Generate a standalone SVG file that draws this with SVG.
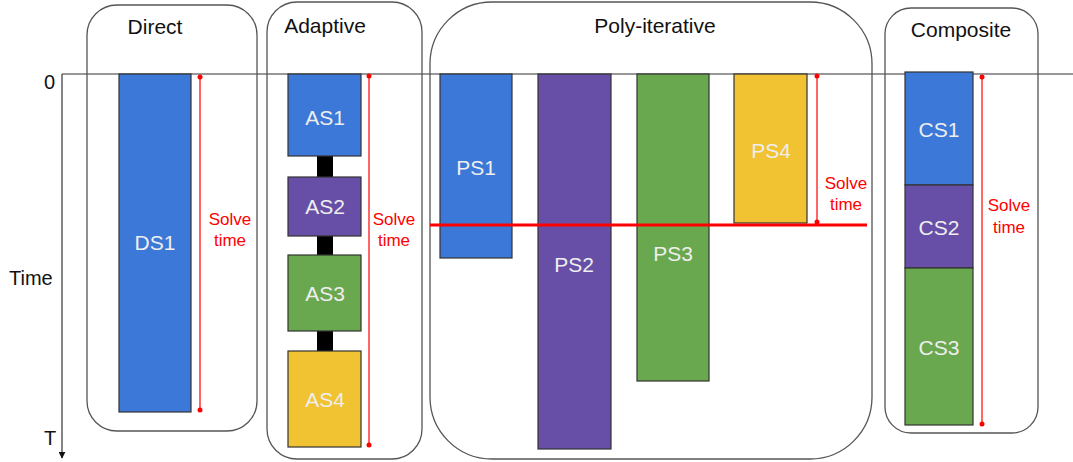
<svg xmlns="http://www.w3.org/2000/svg" width="1073" height="462" viewBox="0 0 1073 462">
<defs>
<style>
.frame{fill:none;stroke:#555;stroke-width:1.3}
.title{font-family:"Liberation Sans",Arial,sans-serif;font-size:21px;fill:#111;text-anchor:middle}
.bar{stroke:#333;stroke-width:1.2}
.lbl{font-family:"Liberation Sans",Arial,sans-serif;font-size:21px;fill:#eee;text-anchor:middle}
.st{font-family:"Liberation Sans",Arial,sans-serif;font-size:17px;fill:#f00;text-anchor:middle}
.axis{font-family:"Liberation Sans",Arial,sans-serif;font-size:20px;fill:#111}
.rl{stroke:#f00;stroke-width:1.2;fill:none}
.blue{fill:#3c78d8}.purple{fill:#674ea7}.green{fill:#6aa84f}.yellow{fill:#f1c232}
</style>
<marker id="dot" viewBox="0 0 6 6" refX="3" refY="3" markerWidth="6" markerHeight="6" markerUnits="userSpaceOnUse"><circle cx="3" cy="3" r="2.5" fill="#f00"/></marker>
<marker id="arr" viewBox="0 0 10 10" refX="9" refY="5" markerWidth="7" markerHeight="7" markerUnits="userSpaceOnUse" orient="auto"><path d="M0,0 L10,5 L0,10 z" fill="#111"/></marker>
</defs>
<g id="axes">
<line x1="62" y1="74" x2="1073" y2="74" stroke="#333" stroke-width="1.2"/>
<line x1="62" y1="74" x2="62" y2="458" stroke="#333" stroke-width="1.2" marker-end="url(#arr)"/>
<text class="axis" x="44" y="89">0</text>
<text class="axis" x="9" y="285">Time</text>
<text class="axis" x="44" y="445">T</text>
</g>
<g id="direct">
<rect class="frame" x="87" y="5" width="170" height="426" rx="30"/>
<text class="title" x="155" y="34">Direct</text>
<g id="DS1"><rect class="bar blue" x="119" y="74" width="72" height="338"/><text class="lbl" x="155" y="250">DS1</text></g>
</g>
<g id="adaptive">
<rect class="frame" x="267" y="2" width="155" height="457" rx="30"/>
<text class="title" x="325" y="33">Adaptive</text>
<rect x="317" y="156" width="16" height="21" fill="#000"/>
<rect x="317" y="236" width="16" height="19" fill="#000"/>
<rect x="317" y="331" width="16" height="20" fill="#000"/>
<g id="AS1"><rect class="bar blue" x="288" y="74" width="73" height="82"/><text class="lbl" x="325" y="125">AS1</text></g>
<g id="AS2"><rect class="bar purple" x="288" y="177" width="73" height="59"/><text class="lbl" x="325" y="214">AS2</text></g>
<g id="AS3"><rect class="bar green" x="288" y="255" width="73" height="76"/><text class="lbl" x="325" y="301">AS3</text></g>
<g id="AS4"><rect class="bar yellow" x="288" y="351" width="73" height="96"/><text class="lbl" x="325" y="407">AS4</text></g>
</g>
<g id="poly">
<rect class="frame" x="430" y="2" width="442" height="457" rx="62"/>
<text class="title" x="655" y="33">Poly-iterative</text>
<g id="PS1"><rect class="bar blue" x="440" y="74" width="72" height="184"/><text class="lbl" x="476" y="175">PS1</text></g>
<g id="PS2"><rect class="bar purple" x="538" y="74" width="73" height="375"/><text class="lbl" x="574" y="272">PS2</text></g>
<g id="PS3"><rect class="bar green" x="637" y="74" width="72" height="307"/><text class="lbl" x="673" y="261">PS3</text></g>
<g id="PS4"><rect class="bar yellow" x="734" y="74" width="73" height="149"/><text class="lbl" x="771" y="158">PS4</text></g>
</g>
<g id="composite">
<rect class="frame" x="885" y="8" width="153" height="425" rx="26"/>
<text class="title" x="961" y="37">Composite</text>
<g id="CS1"><rect class="bar blue" x="905" y="72" width="68" height="113"/><text class="lbl" x="939" y="137">CS1</text></g>
<g id="CS2"><rect class="bar purple" x="905" y="185" width="68" height="83"/><text class="lbl" x="939" y="235">CS2</text></g>
<g id="CS3"><rect class="bar green" x="905" y="268" width="68" height="157"/><text class="lbl" x="939" y="355">CS3</text></g>
</g>
<g id="connectors">
<line class="rl" x1="200" y1="77" x2="200" y2="410" marker-start="url(#dot)" marker-end="url(#dot)"/>
<line class="rl" x1="369" y1="76" x2="369" y2="445" marker-start="url(#dot)" marker-end="url(#dot)"/>
<line class="rl" x1="817" y1="76" x2="817" y2="222" marker-start="url(#dot)" marker-end="url(#dot)"/>
<line class="rl" x1="982" y1="77" x2="982" y2="424" marker-start="url(#dot)" marker-end="url(#dot)"/>
<line x1="430" y1="225" x2="867" y2="225" stroke="#f00" stroke-width="3"/>
</g>
<g id="labels">
<text class="st" x="230" y="225">Solve</text><text class="st" x="230" y="246">time</text>
<text class="st" x="394" y="225">Solve</text><text class="st" x="394" y="246">time</text>
<text class="st" x="846" y="189">Solve</text><text class="st" x="846" y="210">time</text>
<text class="st" x="1009" y="211">Solve</text><text class="st" x="1009" y="233">time</text>
</g>
</svg>
